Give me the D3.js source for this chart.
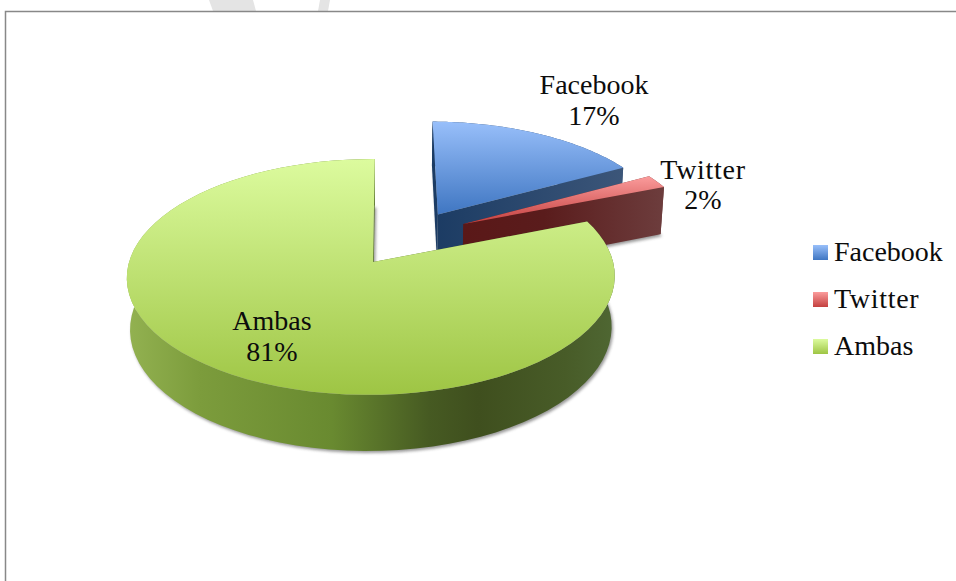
<!DOCTYPE html>
<html>
<head>
<meta charset="utf-8">
<script src="https://cdnjs.cloudflare.com/ajax/libs/d3/7.8.5/d3.min.js"></script>
<style>
  html, body { margin: 0; padding: 0; background: #fff; overflow: hidden; }
  text { font-family: "Liberation Serif", serif; font-size: 28px; fill: #0c0c0c; }
</style>
</head>
<body>
<svg id="chart" width="956" height="581"></svg>
<script>
const categories = ['Facebook', 'Twitter', 'Ambas'];
const values = [17, 2, 81];
const topStops = [['#98bffa', '#3f76c2'], ['#fb9c9c', '#c4403f'], ['#dcfb9e', '#9ec544']];
const wallStops = [
  [[0, '#1b3b63'], [1, '#3c5679']],
  [[0, '#5a1818'], [0.4, '#5a1c1c'], [1, '#6d3d3d']],
  [[0, '#93b251'], [0.15, '#7c9c3c'], [0.42, '#698a30'], [0.62, '#465a22'], [0.72, '#3f4f1e'], [0.9, '#485c28'], [1, '#4f6733']]
];

const svg = d3.select('#chart');
const defs = svg.append('defs');

defs.append('filter').attr('id', 'soft')
  .attr('x', '-10%').attr('y', '-10%').attr('width', '120%').attr('height', '120%')
  .append('feGaussianBlur').attr('stdDeviation', 1.6);

// pie plane -> screen, perspective camera tilted over the disc
const project = (u, v, z) => {
  const w = 1 - 0.127 * v + 0.008 * u + 0.013 * z;
  return [373 + (242 * u - 2 * v) / w, 262 + (116 * v + 51.5 * z) / w];
};

// how far each slice is pulled out of the pie, in radii
const explode = [
  { dist: 0.516, dir: 0.573 },
  { dist: 0.518, dir: 0.847 },
  { dist: 0, dir: 0 }
];

const arcs = d3.pie().sort(null)(values);
const line = d3.line();

const pointAt = (origin, a, z) => project(origin[0] + Math.sin(a), origin[1] - Math.cos(a), z);

function outline(origin, d, z) {
  const n = 80;
  const step = (d.endAngle - d.startAngle) / n;
  return d3.range(n + 1).map(i => pointAt(origin, d.startAngle + i * step, z));
}

function gradient(id, x1, y1, x2, y2, stops) {
  const g = defs.append('linearGradient').attr('id', id)
    .attr('gradientUnits', 'userSpaceOnUse')
    .attr('x1', x1).attr('y1', y1).attr('x2', x2).attr('y2', y2);
  stops.forEach(s => g.append('stop').attr('offset', s[0]).attr('stop-color', s[1]));
}

// watermark scraps above the frame
svg.append('path').attr('fill', '#e4e4e4').attr('d', 'M209,0L253,0L256,11L213,11Z');
svg.append('path').attr('fill', '#e4e4e4').attr('d', 'M320,0L330,0L328,11L318,11Z');
svg.append('path').attr('fill', 'none').attr('stroke', '#888').attr('stroke-width', 1.5)
  .attr('d', 'M956,11.5L5.5,11.5L5.5,581');

arcs.forEach((d, i) => {
  const origin = [explode[i].dist * Math.sin(explode[i].dir), -explode[i].dist * Math.cos(explode[i].dir)];
  const topRim = outline(origin, d, 0);
  const bottomRim = outline(origin, d, 1);
  const apexTop = project(origin[0], origin[1], 0);
  const apexBottom = project(origin[0], origin[1], 1);
  const g = svg.append('g').attr('class', 'slice');

  const xs = topRim.concat(bottomRim, [apexTop]).map(p => p[0]);
  const ys = topRim.map(p => p[1]).concat([apexTop[1]]);
  gradient(`wall${i}`, d3.min(xs), 0, d3.max(xs), 0, wallStops[i]);
  gradient(`top${i}`, 0, d3.min(ys), 0, d3.max(ys), [[0, topStops[i][0]], [1, topStops[i][1]]]);

  // soft shadow from the underside
  g.append('path')
    .attr('d', line([apexBottom, ...bottomRim]) + 'Z')
    .attr('transform', 'translate(1.5,2)')
    .attr('fill', '#777')
    .attr('opacity', 0.75)
    .attr('filter', 'url(#soft)');

  // radial walls, then the rim
  const startWall = [apexTop, topRim[0], bottomRim[0], apexBottom];
  const endWall = [apexTop, topRim[topRim.length - 1], bottomRim[bottomRim.length - 1], apexBottom];
  [startWall, endWall].forEach(w => {
    g.append('path').attr('d', line(w) + 'Z').attr('fill', `url(#wall${i})`);
  });
  g.append('path')
    .attr('d', line(topRim.concat(bottomRim.slice().reverse())) + 'Z')
    .attr('fill', `url(#wall${i})`);

  g.append('path')
    .attr('d', line([apexTop, ...topRim]) + 'Z')
    .attr('fill', `url(#top${i})`);
});

// data labels
const labelPos = [[594, 94, 125], [703, 179, 209], [272, 330, 361]];
categories.forEach((c, i) => {
  const t = svg.append('g').attr('text-anchor', 'middle');
  t.append('text').attr('x', labelPos[i][0]).attr('y', labelPos[i][1])
    .attr('letter-spacing', c === 'Twitter' ? 0.7 : 0).text(c);
  t.append('text').attr('x', labelPos[i][0]).attr('y', labelPos[i][2]).text(`${values[i]}%`);
});

// legend
const legendY = d3.scalePoint().domain(categories).range([245, 339]);
categories.forEach((c, i) => {
  gradient(`key${i}`, 0, legendY(c), 0, legendY(c) + 15, [[0, topStops[i][0]], [1, topStops[i][1]]]);
  svg.append('rect').attr('x', 813).attr('y', legendY(c)).attr('width', 15).attr('height', 15)
    .attr('fill', `url(#key${i})`);
  svg.append('text').attr('x', 834).attr('y', legendY(c) + 16)
    .attr('letter-spacing', c === 'Twitter' ? 0.7 : 0).text(c);
});
</script>
</body>
</html>
